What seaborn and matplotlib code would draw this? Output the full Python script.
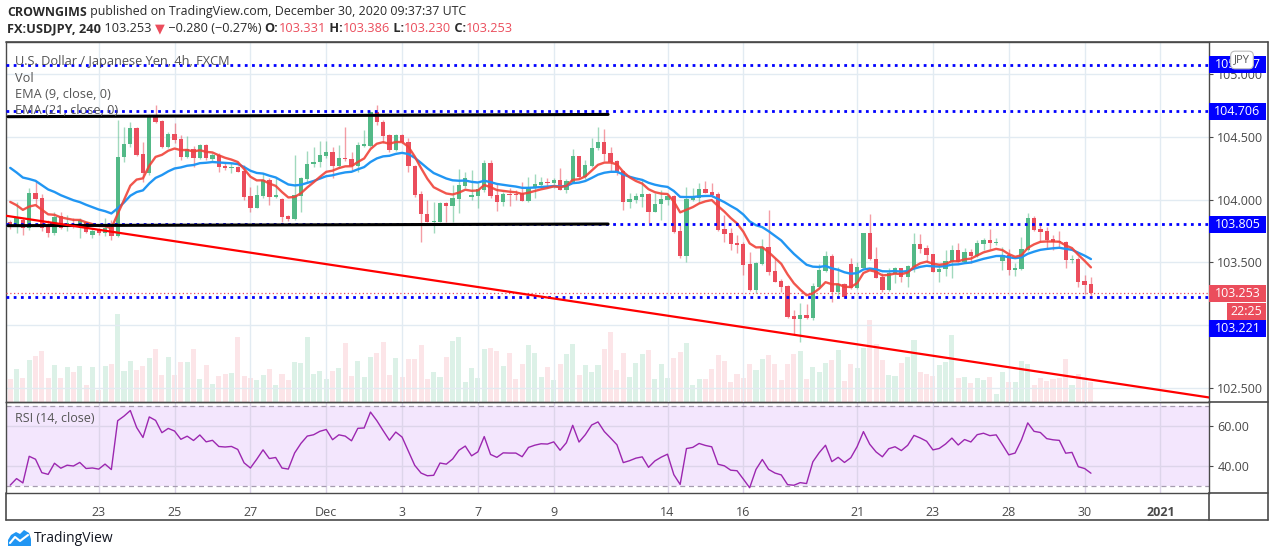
import numpy as np
import seaborn as sns
import matplotlib.pyplot as plt
from matplotlib import transforms
from matplotlib.patches import Rectangle, Polygon
from matplotlib.lines import Line2D

# ---- data (USDJPY 4h, FXCM) ----
opens = [
    103.819, 103.790, 103.838, 103.771, 104.050, 104.011, 103.792, 103.737, 103.872, 103.792,
    103.808, 103.798, 103.819, 103.718, 103.755, 103.734, 103.782, 103.712, 104.337, 104.441,
    104.569, 104.361, 104.210, 104.675, 104.627, 104.423, 104.521, 104.481, 104.343, 104.404,
    104.335, 104.436, 104.324, 104.356, 104.268, 104.255, 104.263, 104.229, 104.032, 103.936,
    104.032, 104.157, 104.024, 104.005, 103.870, 103.846, 104.032, 104.165, 104.282, 104.298,
    104.351, 104.383, 104.268, 104.335, 104.324, 104.271, 104.431, 104.431, 104.702, 104.622,
    104.516, 104.396, 104.516, 104.457, 104.271, 104.043, 103.888, 103.825, 103.825, 103.971,
    103.952, 104.005, 104.111, 104.024, 104.032, 104.077, 104.290, 104.037, 103.984, 104.045,
    104.045, 104.050, 103.992, 104.090, 104.117, 104.141, 104.135, 104.157, 104.077, 104.144,
    104.351, 104.183, 104.271, 104.409, 104.463, 104.369, 104.308, 104.229, 103.984, 103.997,
    104.024, 104.045, 103.904, 103.966, 103.997, 104.032, 103.750, 103.554, 103.997, 104.016,
    104.085, 104.059, 104.043, 103.766, 103.731, 103.657, 103.644, 103.487, 103.280, 103.487,
    103.625, 103.434, 103.352, 103.312, 103.075, 103.051, 103.080, 103.059, 103.306, 103.434,
    103.551, 103.261, 103.325, 103.484, 103.293, 103.458, 103.737, 103.527, 103.386, 103.280,
    103.405, 103.453, 103.386, 103.466, 103.646, 103.612, 103.567, 103.426, 103.445, 103.506,
    103.599, 103.506, 103.585, 103.554, 103.649, 103.678, 103.652, 103.514, 103.559, 103.442,
    103.447, 103.599, 103.851, 103.766, 103.750, 103.686, 103.670, 103.662, 103.522, 103.527,
    103.352, 103.331,
]
highs = [
    103.838, 103.979, 103.857, 104.090, 104.149, 104.043, 103.838, 103.904, 103.899, 103.878,
    103.851, 103.857, 103.825, 103.766, 103.771, 103.851, 103.838, 104.635, 104.582, 104.622,
    104.582, 104.463, 104.681, 104.755, 104.635, 104.542, 104.609, 104.516, 104.510, 104.431,
    104.441, 104.441, 104.369, 104.369, 104.290, 104.290, 104.271, 104.277, 104.104, 104.117,
    104.210, 104.170, 104.170, 104.011, 103.878, 104.356, 104.183, 104.388, 104.423, 104.468,
    104.468, 104.423, 104.436, 104.582, 104.383, 104.457, 104.556, 104.707, 104.755, 104.635,
    104.521, 104.521, 104.521, 104.489, 104.277, 104.069, 103.997, 103.984, 103.984, 103.984,
    104.117, 104.245, 104.223, 104.236, 104.130, 104.316, 104.316, 104.122, 104.058, 104.090,
    104.077, 104.138, 104.183, 104.202, 104.183, 104.175, 104.170, 104.255, 104.165, 104.404,
    104.351, 104.316, 104.494, 104.582, 104.564, 104.423, 104.316, 104.236, 104.050, 104.050,
    104.157, 104.050, 104.050, 104.077, 104.043, 104.037, 103.798, 104.104, 104.090, 104.130,
    104.149, 104.130, 104.059, 103.878, 103.772, 103.718, 103.665, 103.585, 103.506, 103.686,
    103.918, 103.538, 103.368, 103.320, 103.120, 103.173, 103.165, 103.333, 103.484, 103.593,
    103.564, 103.466, 103.333, 103.532, 103.506, 103.737, 103.886, 103.620, 103.413, 103.453,
    103.466, 103.458, 103.479, 103.731, 103.724, 103.639, 103.567, 103.484, 103.599, 103.639,
    103.652, 103.612, 103.607, 103.678, 103.692, 103.764, 103.697, 103.625, 103.607, 103.492,
    103.705, 103.896, 103.870, 103.798, 103.784, 103.718, 103.750, 103.670, 103.559, 103.546,
    103.399, 103.386,
]
lows = [
    103.766, 103.731, 103.718, 103.758, 103.958, 103.750, 103.705, 103.718, 103.766, 103.750,
    103.771, 103.697, 103.731, 103.697, 103.718, 103.712, 103.678, 103.702, 104.298, 104.423,
    104.351, 104.138, 104.197, 104.609, 104.415, 104.409, 104.449, 104.316, 104.330, 104.263,
    104.324, 104.316, 104.303, 104.223, 104.236, 104.210, 104.218, 103.997, 103.899, 103.931,
    104.011, 103.958, 104.011, 103.825, 103.830, 103.838, 103.904, 104.130, 104.263, 104.263,
    104.330, 104.176, 104.250, 104.308, 104.236, 104.223, 104.423, 104.423, 104.596, 104.449,
    104.383, 104.388, 104.449, 104.223, 104.024, 103.665, 103.819, 103.731, 103.819, 103.825,
    103.819, 103.891, 104.090, 103.997, 103.936, 104.064, 104.011, 103.909, 103.952, 103.952,
    103.997, 103.989, 103.984, 104.016, 104.090, 104.104, 104.090, 104.077, 104.050, 104.130,
    104.165, 104.165, 104.263, 104.396, 104.308, 104.223, 104.197, 103.918, 103.931, 103.971,
    103.944, 103.811, 103.899, 103.838, 103.958, 103.731, 103.538, 103.506, 103.989, 103.971,
    104.050, 104.024, 103.750, 103.665, 103.599, 103.572, 103.399, 103.272, 103.253, 103.479,
    103.399, 103.341, 103.267, 103.054, 102.921, 102.862, 103.049, 103.041, 103.298, 103.426,
    103.187, 103.213, 103.219, 103.288, 103.288, 103.453, 103.519, 103.373, 103.267, 103.272,
    103.333, 103.346, 103.306, 103.426, 103.572, 103.506, 103.421, 103.346, 103.394, 103.378,
    103.500, 103.492, 103.492, 103.546, 103.599, 103.607, 103.639, 103.439, 103.399, 103.394,
    103.439, 103.593, 103.752, 103.665, 103.612, 103.599, 103.612, 103.458, 103.492, 103.306,
    103.245, 103.230,
]
closes = [
    103.792, 103.851, 103.771, 104.050, 104.005, 103.771, 103.737, 103.864, 103.777, 103.811,
    103.798, 103.835, 103.745, 103.750, 103.734, 103.777, 103.707, 104.343, 104.441, 104.569,
    104.356, 104.210, 104.675, 104.622, 104.423, 104.521, 104.479, 104.343, 104.404, 104.335,
    104.436, 104.330, 104.356, 104.263, 104.255, 104.263, 104.223, 104.024, 103.936, 104.037,
    104.157, 104.024, 104.037, 103.864, 103.846, 104.037, 104.170, 104.282, 104.303, 104.356,
    104.383, 104.268, 104.335, 104.321, 104.271, 104.436, 104.441, 104.702, 104.617, 104.510,
    104.396, 104.516, 104.457, 104.271, 104.037, 103.883, 103.825, 103.830, 103.971, 103.952,
    104.011, 104.117, 104.170, 104.037, 104.085, 104.290, 104.032, 103.984, 104.043, 104.040,
    104.040, 103.992, 104.096, 104.122, 104.138, 104.135, 104.157, 104.077, 104.149, 104.351,
    104.183, 104.277, 104.415, 104.463, 104.367, 104.298, 104.223, 103.984, 104.005, 104.032,
    104.045, 103.904, 103.966, 104.003, 104.032, 103.745, 103.554, 104.005, 104.024, 104.085,
    104.056, 104.037, 103.758, 103.729, 103.649, 103.639, 103.479, 103.280, 103.492, 103.625,
    103.426, 103.346, 103.304, 103.067, 103.051, 103.080, 103.059, 103.312, 103.439, 103.551,
    103.261, 103.325, 103.227, 103.293, 103.461, 103.737, 103.524, 103.378, 103.280, 103.418,
    103.453, 103.386, 103.471, 103.646, 103.607, 103.559, 103.426, 103.447, 103.511, 103.599,
    103.506, 103.585, 103.554, 103.657, 103.678, 103.652, 103.662, 103.559, 103.439, 103.458,
    103.604, 103.851, 103.758, 103.745, 103.678, 103.665, 103.659, 103.519, 103.527, 103.346,
    103.320, 103.253,
]
volumes = [
    70, 100, 73, 127, 140, 153, 73, 112, 73, 105,
    90, 108, 52, 105, 35, 108, 115, 265, 93, 123,
    96, 108, 133, 159, 82, 135, 82, 120, 120, 159,
    69, 112, 55, 79, 85, 87, 197, 77, 72, 65,
    82, 99, 50, 85, 65, 120, 117, 197, 85, 95,
    69, 95, 102, 179, 78, 125, 75, 135, 147, 182,
    80, 132, 75, 129, 129, 173, 69, 92, 75, 135,
    185, 195, 60, 102, 72, 159, 162, 155, 108, 147,
    69, 115, 171, 147, 75, 105, 65, 114, 144, 174,
    81, 111, 90, 111, 159, 210, 96, 147, 75, 117,
    144, 156, 69, 114, 72, 132, 150, 177, 51, 69,
    69, 99, 141, 123, 60, 84, 72, 114, 96, 129,
    141, 114, 66, 114, 144, 153, 69, 105, 90, 117,
    126, 156, 63, 114, 102, 162, 246, 174, 126, 81,
    78, 117, 135, 186, 90, 84, 78, 111, 120, 201,
    72, 75, 57, 72, 66, 75, 24, 90, 60, 60,
    123, 114, 51, 72, 63, 69, 72, 129, 51, 84,
    75, 60,
]

# indicator state carried in from before the visible window
ema9_seed, ema21_seed = 104.03, 104.30
rsi_gain_seed, rsi_loss_seed = 0.028, 0.064

# date ticks (bar index of the first bar of each labelled day)
tick_bars = [14, 26, 38, 50, 62, 74, 86, 104, 116, 134, 146, 158, 170, 182]
tick_labels = ["23", "25", "27", "Dec", "3", "7", "9", "14", "16", "21", "23", "28", "30", "2021"]

# drawn levels / lines
levels = [105.077, 104.706, 103.805, 103.221]
channel_top = ([-0.35, 94.6], [104.662, 104.680])
channel_bottom = ([-0.35, 94.6], [103.793, 103.806])
trend_line = ([-0.67, 189.68], [103.872, 102.423])
last_price = 103.253

# ---- indicators ----
def ema(values, span, seed):
    a = 2.0 / (span + 1)
    out, prev = [], seed
    for v in values:
        prev = prev + a * (v - prev)
        out.append(prev)
    return np.array(out)

def rsi(values, period, g0, l0):
    out, g, l = [], g0, l0
    prev = None
    for v in values:
        if prev is not None:
            d = v - prev
            g = (g * (period - 1) + max(d, 0)) / period
            l = (l * (period - 1) + max(-d, 0)) / period
        out.append(100 - 100 / (1 + g / l))
        prev = v
    return np.array(out)

o = np.array(opens); h = np.array(highs); lo = np.array(lows); c = np.array(closes)
n = len(c)
idx = np.arange(n)
ema9 = ema(c, 9, ema9_seed)
ema21 = ema(c, 21, ema21_seed)
rsi14 = rsi(c, 14, rsi_gain_seed, rsi_loss_seed)

# ---- figure ----
W, H = 1274, 557
sns.set_theme(style="white")
plt.rcParams["font.family"] = ["Open Sans", "DejaVu Sans"]
fig = plt.figure(figsize=(W / 100, H / 100), dpi=100)

def fx(px):
    return px / W

def fy(py):
    return 1 - py / H

GREEN, RED = "#53b987", "#eb4d5c"
BLUE_LVL = "#0000ff"
GRID = "#e2ebf2"
FRAME = "#4a4a4a"
TXT = "#4a4a4a"
XMIN, XMAX = -0.67, 189.68
YMIN, YMAX = 102.3868, 105.2576

ax = fig.add_axes([fx(6), fy(402), fx(1209) - fx(6), fy(42) - fy(402)])
axr = fig.add_axes([fx(6), fy(493), fx(1209) - fx(6), fy(402) - fy(493)])

# volume overlay
axv = ax.twinx()
up = c >= o
vol_colors = [(0.33, 0.73, 0.53, 0.20) if u else (0.92, 0.30, 0.36, 0.14) for u in up]
axv.bar(idx, volumes, width=0.8, color=vol_colors, linewidth=0)
axv.set_ylim(0, 1086)
axv.set_xlim(XMIN, XMAX)
axv.axis("off")
ax.set_zorder(axv.get_zorder() + 1)
ax.patch.set_visible(False)

# candles
wick_cols = [(0.33, 0.73, 0.53, 0.55) if u else (0.92, 0.30, 0.36, 0.55) for u in up]
ax.vlines(idx, lo, h, colors=wick_cols, lw=1.0, zorder=3)
body_lo = np.minimum(o, c)
body_h = np.maximum(np.abs(c - o), 0.007)
ax.bar(idx, body_h, bottom=body_lo, width=0.68, color=[GREEN if u else RED for u in up],
       linewidth=0, zorder=4)

# EMAs
sns.lineplot(x=idx, y=ema21, ax=ax, color="#2196f3", lw=1.7, zorder=5)
sns.lineplot(x=idx, y=ema9, ax=ax, color="#f0443a", lw=1.7, alpha=0.9, zorder=5)

# levels and drawings
for lv in levels:
    ax.axhline(lv, color=BLUE_LVL, lw=2.0, ls=(0, (1, 1.6)), zorder=6)
ax.axhline(last_price, color=RED, lw=0.9, ls=(0, (1, 2)), zorder=6)
ax.plot(*channel_top, color="black", lw=2.2, zorder=6)
ax.plot(*channel_bottom, color="black", lw=2.2, zorder=6)
ax.plot(*trend_line, color="#ff0000", lw=1.6, zorder=6)

ax.set_xlim(XMIN, XMAX)
ax.set_ylim(YMIN, YMAX)
ax.set_xticks(tick_bars)
ax.set_xticklabels([])
ax.tick_params(axis="x", length=0)
ax.yaxis.tick_right()
yt = [102.5, 103.0, 103.5, 104.0, 104.5, 105.0]
ax.set_yticks(yt)
# 103.000 sits under the 103.221 price label in the reference
ax.set_yticklabels(["" if v == 103.0 else f"{v:.3f}" for v in yt])
ax.tick_params(axis="y", length=3, width=0.8, color=FRAME, labelsize=9, labelcolor=TXT, pad=3)
ax.grid(True, color=GRID, lw=1)
for s in ax.spines.values():
    s.set_color(FRAME)
    s.set_linewidth(1)
ax.set_xlabel("")
ax.set_ylabel("")

# price-scale labels
bt = transforms.blended_transform_factory(ax.transAxes, ax.transData)
box_w = 57 / 1203
px_price = (YMAX - YMIN) / 360

def scale_label(price, text, fc, shift_px=0, width=box_w, x0=1.0):
    yc = price - shift_px * px_price
    ax.add_patch(Rectangle((x0, yc - 8.5 * px_price), width, 17 * px_price, transform=bt,
                           facecolor=fc, edgecolor="none", clip_on=False, zorder=20))
    ax.text(x0 + width / 2, yc, text, transform=bt, ha="center", va="center",
            color="white", fontsize=9, clip_on=False, zorder=21)

scale_label(105.077, "105.077", BLUE_LVL)
scale_label(104.706, "104.706", BLUE_LVL)
scale_label(103.805, "103.805", BLUE_LVL)
scale_label(last_price, "103.253", RED)
scale_label(last_price, "22:25", RED, shift_px=18, width=39 / 1203, x0=1 + 18 / 1203)
scale_label(103.221, "103.221", BLUE_LVL, shift_px=31)

# legend texts
for ytxt, s in [(61, "U.S. Dollar / Japanese Yen, 4h, FXCM"), (78, "Vol"),
                (95, "EMA (9, close, 0)"), (111, "EMA (21, close, 0)")]:
    ax.text(9 / 1203, (402 - ytxt) / 360, s, transform=ax.transAxes, fontsize=9.2,
            color="#555555", va="center", ha="left", zorder=8)

# RSI pane
axr.axhspan(30, 70, color="#f3e6fd", zorder=0, lw=0)
axr.axhline(70, color="#a59caf", lw=0.9, ls=(0, (4, 3)), zorder=1)
axr.axhline(30, color="#a59caf", lw=0.9, ls=(0, (4, 3)), zorder=1)
sns.lineplot(x=idx, y=rsi14, ax=axr, color="#9c27b0", lw=1.0, zorder=4)
axr.set_xlim(XMIN, XMAX)
axr.set_ylim(26.5, 72)
axr.set_xticks(tick_bars)
axr.set_xticklabels(tick_labels)
axr.get_xticklabels()[-1].set_fontweight("bold")
axr.tick_params(axis="x", length=3, width=0.8, color=FRAME, labelsize=9, labelcolor=TXT, pad=6)
axr.yaxis.tick_right()
axr.set_yticks([40, 60])
axr.set_yticklabels(["40.00", "60.00"])
axr.tick_params(axis="y", length=3, width=0.8, color=FRAME, labelsize=9, labelcolor=TXT, pad=3)
axr.grid(True, color="#ddd5ea", lw=1)
for s in axr.spines.values():
    s.set_color(FRAME)
    s.set_linewidth(1)
axr.set_xlabel("")
axr.set_ylabel("")
axr.text(9 / 1203, (493 - 418) / 91, "RSI (14, close)", transform=axr.transAxes,
         fontsize=9, color="#555555", va="center", ha="left")

# outer frame
for xs, ys in [([6, 1268], [42, 42]), ([1209, 1268], [402, 402]), ([1209, 1268], [493, 493]),
               ([6, 1268], [520, 520]), ([6, 6], [493, 520]), ([1209, 1209], [493, 520]),
               ([1268, 1268], [42, 520])]:
    fig.add_artist(Line2D([fx(x) for x in xs], [fy(y) for y in ys], color=FRAME, lw=1.2))

# JPY badge
fig.text(fx(1242), fy(60), "JPY", ha="center", va="center", fontsize=8, color="#555555",
         bbox=dict(boxstyle="round,pad=0.3,rounding_size=0.4", fc="white", ec="#bbbbbb", lw=0.8),
         zorder=30)

# header lines
fig.canvas.draw()
renderer = fig.canvas.get_renderer()

def put_row(pieces, x_px, y_px, size):
    x = x_px
    for txt, weight, color in pieces:
        t = fig.text(fx(x), fy(y_px), txt, fontsize=size, fontweight=weight, color=color,
                     va="center", ha="left")
        x += t.get_window_extent(renderer).width

put_row([("CROWNGIMS", "bold", "#2a2a2a"),
         (" published on TradingView.com, December 30, 2020 09:37:37 UTC", "normal", "#2a2a2a")],
        7, 12, 8.9)
put_row([("FX:USDJPY, 240", "bold", "#2a2a2a"), (" 103.253 ", "normal", "#2a2a2a"),
         ("▼", "normal", RED), (" −0.280 (−0.27%) ", "normal", "#2a2a2a"),
         ("O:", "bold", "#2a2a2a"), ("103.331", "normal", RED),
         (" H:", "bold", "#2a2a2a"), ("103.386", "normal", RED),
         (" L:", "bold", "#2a2a2a"), ("103.230", "normal", RED),
         (" C:", "bold", "#2a2a2a"), ("103.253", "normal", RED)],
        7, 29, 9.2)

# TradingView logo
cloud = [(8, 546), (8, 540), (11, 535), (16, 532), (20, 534), (24, 530), (29, 533), (31, 539), (31, 546)]
fig.add_artist(Polygon([(fx(a), fy(b)) for a, b in cloud], closed=True, transform=fig.transFigure,
                       facecolor="#2196f3", edgecolor="none"))
fig.add_artist(Line2D([fx(10), fx(15), fx(20), fx(28)], [fy(543), fy(537), fy(541), fy(535)],
                      color="white", lw=1.5))
fig.text(fx(34), fy(538), "TradingView", fontsize=10, color="#131722", va="center", ha="left")

fig.savefig("out.png", dpi=100, facecolor="white")
